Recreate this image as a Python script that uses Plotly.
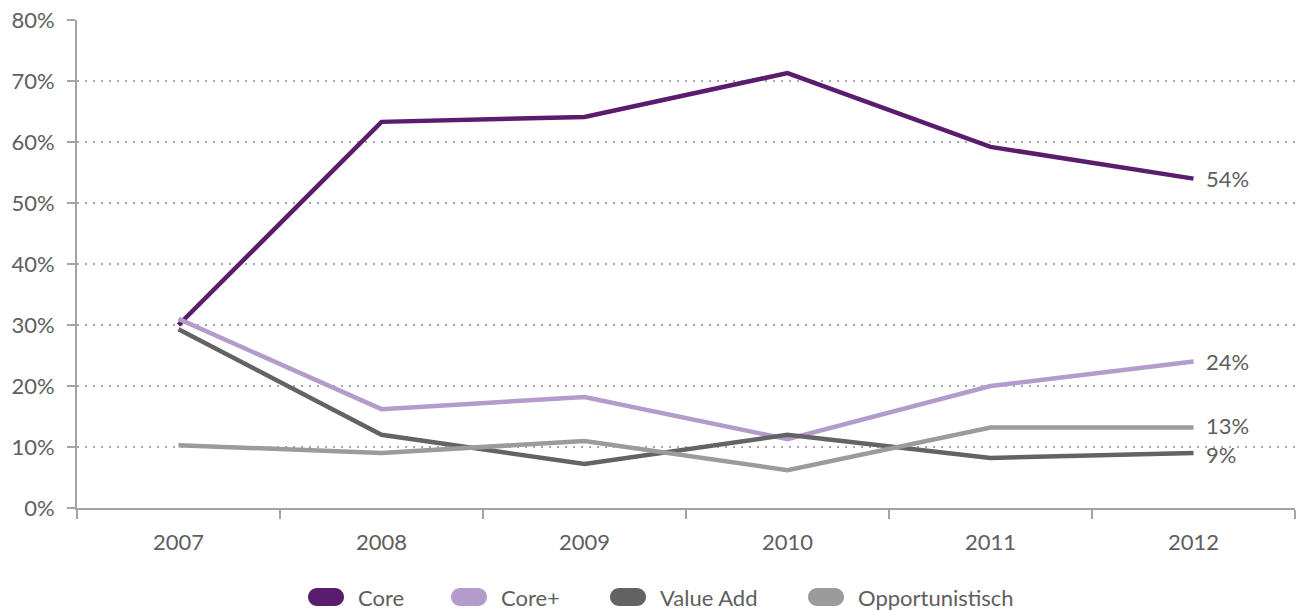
import plotly.graph_objects as go

years = ["2007", "2008", "2009", "2010", "2011", "2012"]
core = [0.30, 0.633, 0.641, 0.713, 0.592, 0.54]
core_plus = [0.31, 0.162, 0.182, 0.113, 0.20, 0.24]
value_add = [0.293, 0.12, 0.072, 0.12, 0.082, 0.09]
opportunistisch = [0.103, 0.09, 0.11, 0.062, 0.132, 0.132]

series_names = ["Core", "Core+", "Value Add", "Opportunistisch"]
series_values = [core, core_plus, value_add, opportunistisch]
series_colors = ["#5a1c6c", "#b39bcb", "#636363", "#9b9b9b"]
end_labels = ["54%", "24%", "9%", "13%"]
label_yshift = [0, 0, -1, 2]

y_ticks = [0, 0.1, 0.2, 0.3, 0.4, 0.5, 0.6, 0.7, 0.8]
y_tick_text = ["0%", "10%", "20%", "30%", "40%", "50%", "60%", "70%", "80%"]

FONT = "Lato, 'DejaVu Sans', sans-serif"
TEXT = "#5e5e5e"
AXIS = "#a3a3a3"

W, H = 1299, 611
ML, MR, MT, MB = 77, 4, 20, 103
PW, PH = W - ML - MR, H - MT - MB

fig = go.Figure()
for name, vals, col in zip(series_names, series_values, series_colors):
    fig.add_trace(go.Scatter(x=years, y=vals, mode="lines", name=name,
                             line=dict(color=col, width=4.5), showlegend=False,
                             hoverinfo="skip"))

last = len(years) - 1
for vals, lab, ys in zip(series_values, end_labels, label_yshift):
    fig.add_annotation(x=last, y=vals[-1], xref="x", yref="y", text=lab,
                       showarrow=False, xanchor="left", yanchor="middle",
                       xshift=10, yshift=ys,
                       font=dict(family=FONT, size=22, color=TEXT))

# custom legend with pill-shaped swatches
legend_left_px = [308, 451, 610, 808]
legend_y_px = 597
ly = -(legend_y_px - (MT + PH)) / PH
r = 9
half = 9
k = 0.5523 * r
pill = (f"M {-half},{-r} L {half},{-r} "
        f"C {half + k},{-r} {half + r},{-k} {half + r},0 "
        f"C {half + r},{k} {half + k},{r} {half},{r} "
        f"L {-half},{r} "
        f"C {-half - k},{r} {-half - r},{k} {-half - r},0 "
        f"C {-half - r},{-k} {-half - k},{-r} {-half},{-r} Z")
for name, col, px in zip(series_names, series_colors, legend_left_px):
    cx = (px + half + r - ML) / PW
    fig.add_shape(type="path", xref="paper", yref="paper", xsizemode="pixel",
                  ysizemode="pixel", xanchor=cx, yanchor=ly, path=pill,
                  fillcolor=col, line=dict(width=0))
    fig.add_annotation(x=(px + 2 * (half + r) + 12 - ML) / PW, y=ly, xref="paper",
                       yref="paper", text=name, showarrow=False, xanchor="left",
                       yanchor="middle", font=dict(family=FONT, size=22, color=TEXT))

fig.update_layout(
    width=W, height=H,
    margin=dict(l=ML, r=MR, t=MT, b=MB),
    paper_bgcolor="white", plot_bgcolor="white",
    font=dict(family=FONT, color=TEXT, size=20),
    showlegend=False,
    xaxis=dict(type="category", tickson="boundaries", ticks="outside", ticklen=9,
               tickcolor=AXIS, tickwidth=2, showline=True, linecolor=AXIS,
               linewidth=2, showgrid=False, range=[-0.5, 5.5], ticklabelstandoff=14,
               tickfont=dict(family=FONT, size=22, color=TEXT)),
    yaxis=dict(range=[0, 0.8], tickvals=y_ticks, ticktext=y_tick_text, ticks="outside",
               ticklen=8, tickcolor=AXIS, tickwidth=2, showline=True,
               linecolor=AXIS, linewidth=2, showgrid=True, gridcolor="#a8a8a8",
               griddash="2px,6px", gridwidth=2, zeroline=False, ticklabelstandoff=8,
               tickfont=dict(family=FONT, size=22, color=TEXT)),
)
fig.write_html("out.html", config={"displayModeBar": False},
               post_script="document.body.style.margin='0';")
